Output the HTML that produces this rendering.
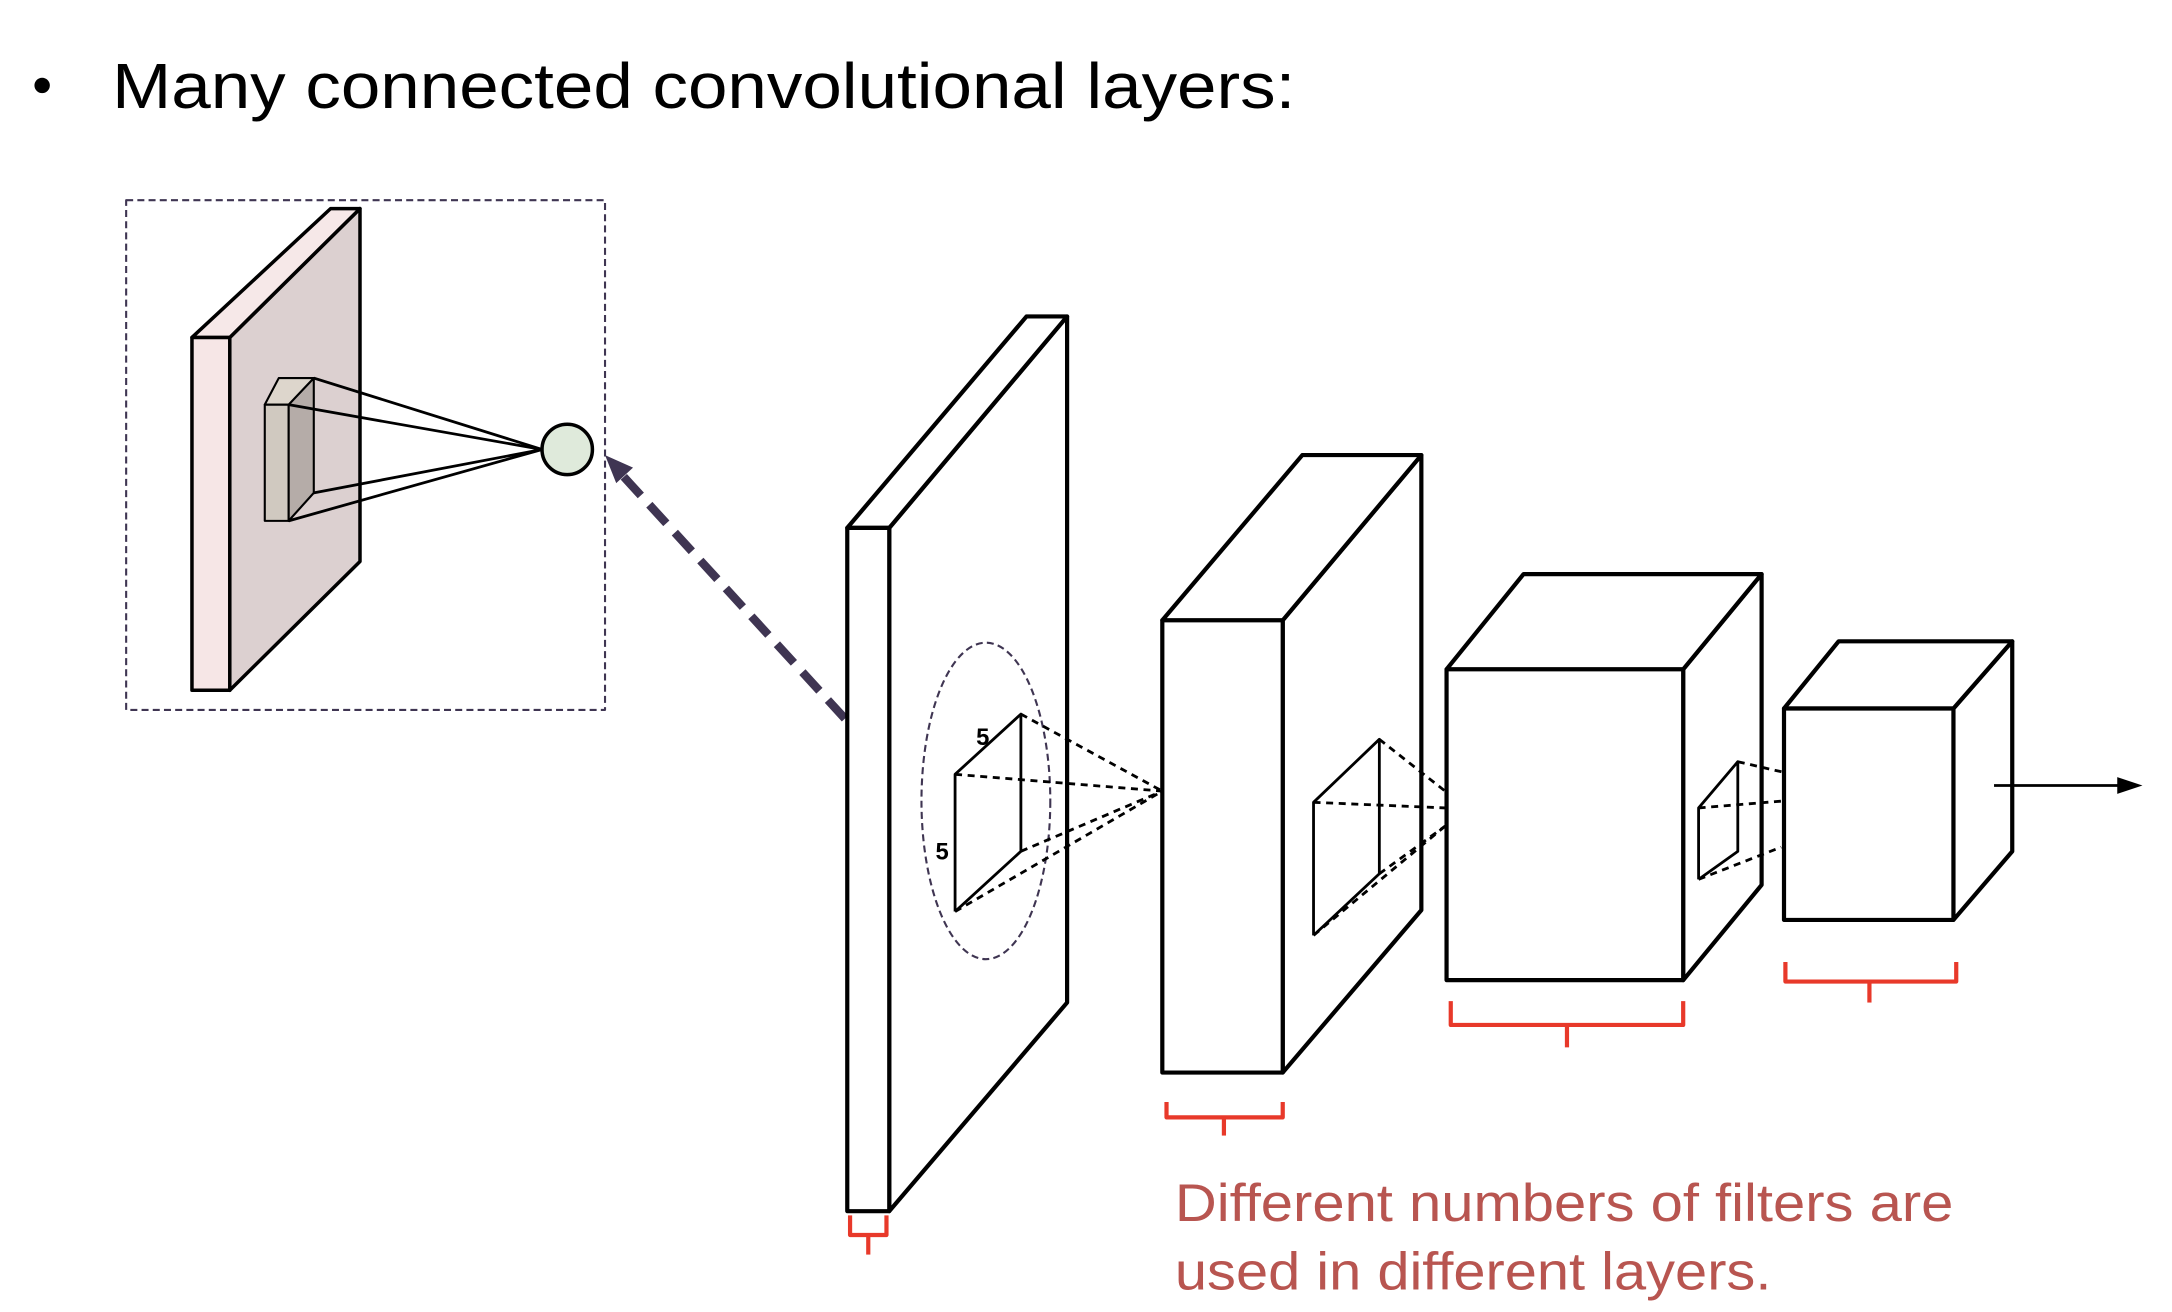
<!DOCTYPE html>
<html><head><meta charset="utf-8"><style>
html,body{margin:0;padding:0;background:#fff;}
svg{display:block;}
</style></head><body>
<svg width="2172" height="1312" viewBox="0 0 1551 937" xmlns="http://www.w3.org/2000/svg" font-family="Liberation Sans, sans-serif">
<rect width="1551" height="937" fill="#fff"/>
<g>
<circle cx="30" cy="61" r="5.5" fill="#000"/>
<text x="80" y="77" font-size="46" textLength="845" lengthAdjust="spacingAndGlyphs" fill="#000">Many connected convolutional layers:</text>
</g>
<g stroke="#000" stroke-linejoin="round">
<rect x="90" y="143" width="342" height="364" fill="none" stroke="#3f3552" stroke-width="1.5" stroke-dasharray="5,3"/>
<polygon points="164,241 257,149 257,401 164,493" fill="#dcd0d0" stroke-width="2.5"/>
<polygon points="137,241 236,149 257,149 164,241" fill="#f6e8e8" stroke-width="2.5"/>
<rect x="137" y="241" width="27" height="252" fill="#f6e6e6" stroke-width="2.5"/>
<polygon points="206,289 224,270 224,352 206,372" fill="#b5aca8" stroke-width="1.5"/>
<polygon points="189,289 199,270 224,270 206,289" fill="#ddd6cc" stroke-width="1.5"/>
<rect x="189" y="289" width="17" height="83" fill="#d0c9c0" stroke-width="1.5"/>
<g stroke-width="2" fill="none">
<line x1="224" y1="270" x2="387" y2="321"/><line x1="206" y1="289" x2="387" y2="321"/>
<line x1="224" y1="352" x2="387" y2="321"/><line x1="206" y1="372" x2="387" y2="321"/>
</g>
<ellipse cx="405" cy="321" rx="18" ry="18" fill="#dfeadb" stroke-width="2.5"/>
</g>
<g>
<line x1="658" y1="573" x2="444" y2="339" stroke="#3f3552" stroke-width="6" stroke-dasharray="18,9"/>
<polygon points="432,325 452,334 440,345" fill="#3f3552"/>
</g>
<g stroke="#000" stroke-width="3" fill="#fff" stroke-linejoin="round">
<polygon points="635,377 762,226 762,716 635,865"/>
<polygon points="605,377 733,226 762,226 635,377"/>
<rect x="605" y="377" width="30" height="488"/>
<ellipse cx="704" cy="572" rx="46" ry="113" fill="none" stroke="#3f3552" stroke-width="1.5" stroke-dasharray="5,3"/>
<g stroke-width="2" fill="none">
<polyline points="682,651 682,553 729,510 729,608 682,651"/>
</g>
<g stroke-width="2" stroke-dasharray="5,4" fill="none">
<line x1="729" y1="510" x2="830" y2="565"/><line x1="682" y1="553" x2="830" y2="565"/>
<line x1="729" y1="608" x2="830" y2="565"/><line x1="682" y1="651" x2="830" y2="565"/>
</g>
<text x="697" y="532" font-size="17" font-weight="bold" stroke="none" fill="#000">5</text>
<text x="668" y="614" font-size="17" font-weight="bold" stroke="none" fill="#000">5</text>
</g>
<g stroke="#000" stroke-width="3" fill="#fff" stroke-linejoin="round">
<polygon points="916,443 1015,325 1015,650 916,766"/>
<polygon points="830,443 930,325 1015,325 916,443"/>
<rect x="830" y="443" width="86" height="323"/>
<polyline points="938,668 938,573 985,528 985,624 938,668" fill="none" stroke-width="2"/>
<g stroke-width="2" stroke-dasharray="5,4" fill="none">
<line x1="985" y1="528" x2="1032" y2="565"/><line x1="938" y1="573" x2="1032" y2="577"/>
<line x1="985" y1="624" x2="1032" y2="590"/><line x1="938" y1="668" x2="1032" y2="590"/>
</g>
</g>
<g stroke="#000" stroke-width="3" fill="#fff" stroke-linejoin="round">
<polygon points="1202,478 1258,410 1258,632 1202,700"/>
<polygon points="1033,478 1088,410 1258,410 1202,478"/>
<rect x="1033" y="478" width="169" height="222"/>
<polyline points="1213,628 1213,577 1241,544 1241,608 1213,628" fill="none" stroke-width="2"/>
<g stroke-width="2" stroke-dasharray="5,4" fill="none">
<line x1="1241" y1="544" x2="1280" y2="553"/><line x1="1213" y1="577" x2="1274" y2="572"/>
<line x1="1213" y1="628" x2="1272" y2="605"/>
</g>
</g>
<g stroke="#000" stroke-width="3" fill="#fff" stroke-linejoin="round">
<polygon points="1395,506 1437,458 1437,608 1395,657"/>
<polygon points="1274,506 1313,458 1437,458 1395,506"/>
<rect x="1274" y="506" width="121" height="151"/>
</g>
<g>
<line x1="1424" y1="561" x2="1515" y2="561" stroke="#000" stroke-width="2"/>
<polygon points="1530,561 1512,555 1512,567" fill="#000"/>
</g>
<g stroke="#e8392a" stroke-width="3" fill="none" stroke-linejoin="round">
<polyline points="607,868 607,882 633,882 633,868"/><line x1="620" y1="882" x2="620" y2="896"/>
<polyline points="833,787 833,798 916,798 916,787"/><line x1="874" y1="798" x2="874" y2="811"/>
<polyline points="1036,715 1036,732 1202,732 1202,715"/><line x1="1119" y1="732" x2="1119" y2="748"/>
<polyline points="1275,687 1275,701 1397,701 1397,687"/><line x1="1335" y1="701" x2="1335" y2="716"/>
</g>
<g fill="#b85550" font-size="38">
<text x="839" y="872" textLength="556" lengthAdjust="spacingAndGlyphs">Different numbers of filters are</text>
<text x="839" y="921" textLength="426" lengthAdjust="spacingAndGlyphs">used in different layers.</text>
</g>
</svg>
</body></html>
